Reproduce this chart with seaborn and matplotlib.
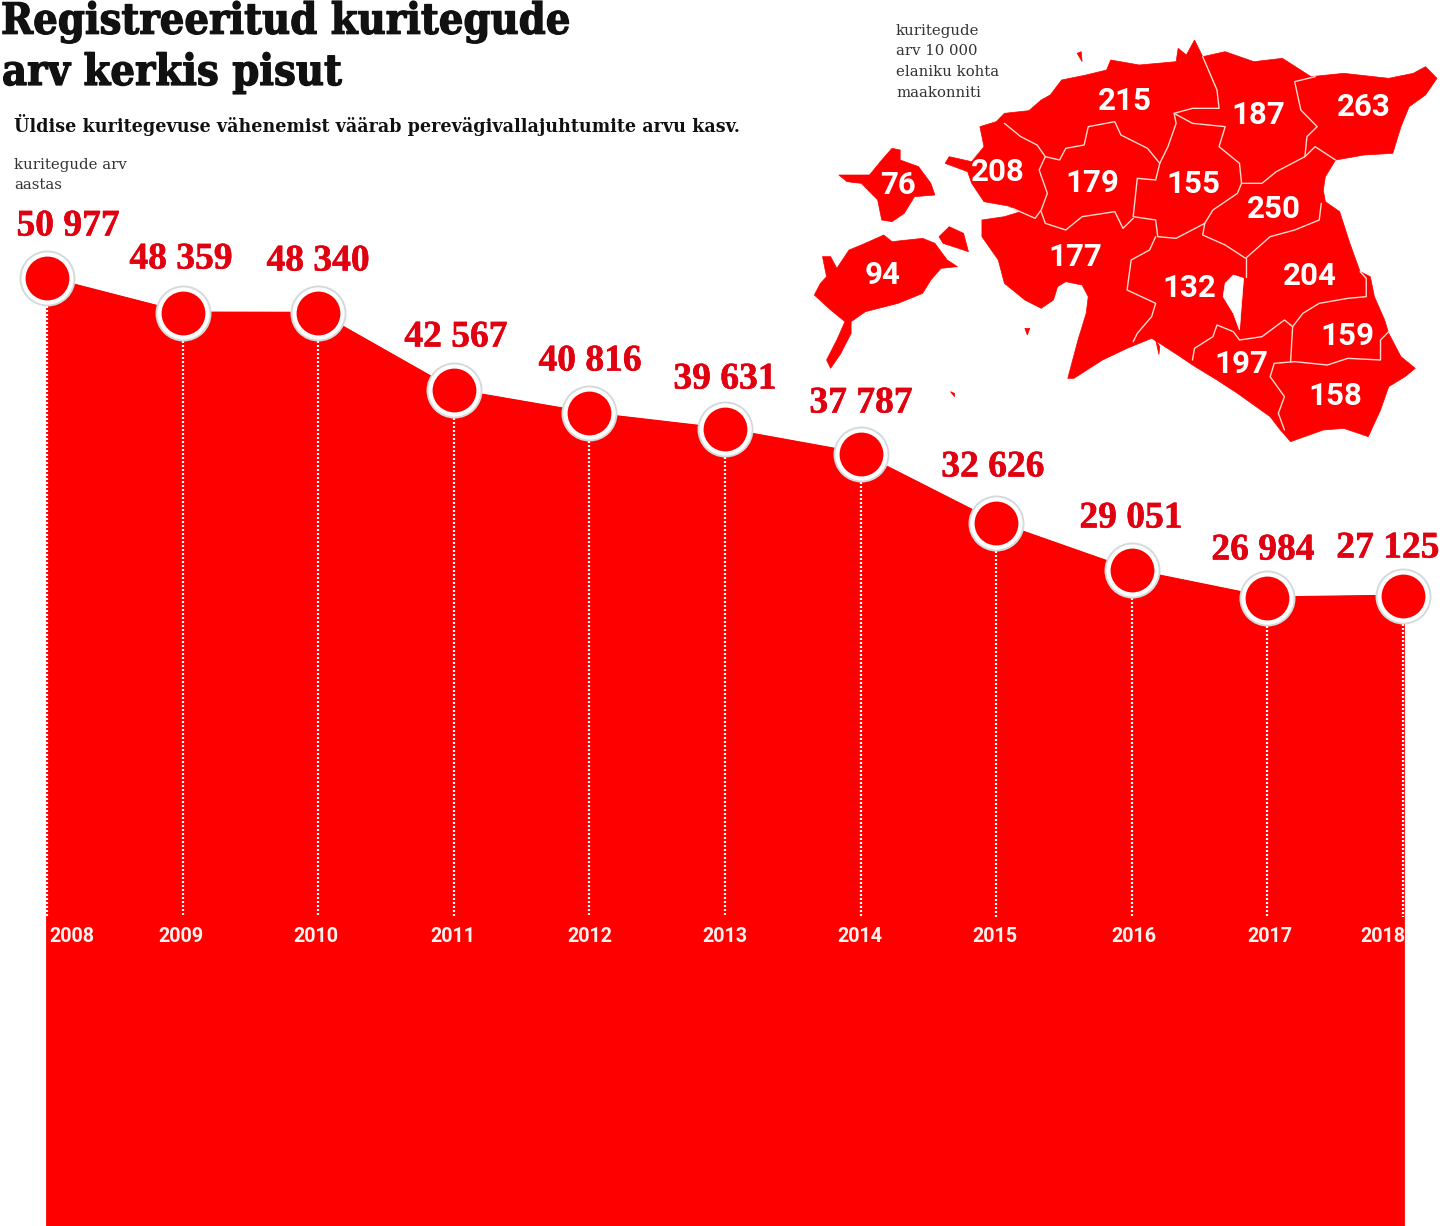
#!/usr/bin/env python3
# Registreeritud kuriteod 2008-2018 + maakondade kaart
import matplotlib
matplotlib.use('Agg')
import matplotlib.pyplot as plt
import matplotlib.patheffects as pe
from matplotlib.patches import Polygon
import pandas as pd
import seaborn as sns

# Data
years = [2008, 2009, 2010, 2011, 2012, 2013, 2014, 2015, 2016, 2017, 2018]
crimes = [50977, 48359, 48340, 42567, 40816, 39631, 37787, 32626, 29051, 26984, 27125]
crime_labels = ['50 977', '48 359', '48 340', '42 567', '40 816', '39 631',
                '37 787', '32 626', '29 051', '26 984', '27 125']
county_values = ['215', '187', '263', '208', '179', '155', '250', '76', '177',
                 '94', '132', '204', '159', '197', '158']

RED = '#fe0000'
SANS = 'Roboto'
SLAB = 'DejaVu Serif'
NUM = 'Liberation Serif'

# Label placement in image pixels
label_xy = [(68, 226), (181, 259), (318, 261), (456, 337), (590, 361), (725, 379),
            (861, 403), (993, 467), (1131, 518), (1263, 550), (1388, 548)]
year_x = [72, 181, 316, 453, 590, 725, 860, 995, 1134, 1270, 1383]
county_xy = [(1125, 101), (1258, 115), (1364, 107), (998, 172), (1092, 183), (1193, 184),
             (1274, 209), (898, 185), (1075, 257), (883, 275), (1189, 288), (1310, 276),
             (1347, 336), (1241, 364), (1335, 396)]

# Map outlines, coordinates of the crop at (800, 20)
mainland = [(500, 280), (560, 272), (590, 240), (612, 225), (640, 180), (700, 165), (750, 150),
            (760, 120), (830, 135), (920, 125), (925, 85), (945, 105), (965, 60), (985, 110),
            (1040, 95), (1110, 125), (1180, 115), (1250, 170), (1330, 160), (1440, 175),
            (1500, 160), (1530, 140), (1558, 175), (1530, 225), (1490, 260), (1470, 320),
            (1450, 400), (1380, 405), (1310, 420), (1285, 470), (1280, 510), (1285, 545),
            (1320, 575), (1345, 670), (1370, 755), (1395, 770), (1405, 830), (1430, 900),
            (1440, 940), (1470, 1010), (1505, 1045), (1480, 1070), (1440, 1100), (1420, 1170),
            (1390, 1250), (1330, 1225), (1280, 1230), (1200, 1265), (1175, 1230), (1150, 1190),
            (1070, 1120), (1020, 1080), (960, 1035), (930, 1010), (880, 970), (860, 955),
            (800, 985), (740, 1020), (670, 1075), (655, 1075), (680, 960), (700, 880),
            (705, 830), (690, 795), (650, 785), (630, 800), (620, 840), (590, 865), (550, 840),
            (500, 790), (485, 720), (445, 650), (445, 600), (500, 590), (540, 575), (510, 558),
            (450, 545), (420, 490), (410, 455), (355, 430), (365, 410), (420, 425), (450, 380),
            (440, 320), (480, 305)]
hiiumaa = [(95, 465), (170, 465), (200, 420), (225, 385), (245, 390), (245, 420), (290, 440),
           (320, 490), (330, 525), (280, 530), (255, 580), (225, 605), (200, 600), (190, 540),
           (150, 490), (115, 485)]
saaremaa = [(55, 710), (75, 710), (90, 745), (120, 690), (150, 675), (205, 645), (225, 665),
            (300, 655), (330, 670), (360, 720), (385, 740), (345, 745), (320, 780), (300, 820),
            (240, 850), (160, 875), (125, 905), (125, 940), (100, 1000), (75, 1045), (65, 1020),
            (90, 960), (110, 905), (75, 870), (35, 825), (50, 790), (65, 770)]
muhu = [(340, 650), (365, 620), (400, 640), (412, 695), (375, 680), (350, 670)]
islets = [[(678, 100), (688, 95), (690, 125)], [(550, 925), (562, 925), (556, 945)],
          [(368, 1115), (378, 1120), (378, 1130)], [(870, 960), (880, 980), (878, 1003)]]
vortsjarv = [(1040, 790), (1060, 765), (1085, 775), (1080, 850), (1075, 930), (1060, 880), (1035, 830)]

borders = [
    [(500, 310), (540, 350), (580, 375), (600, 410), (635, 420), (650, 385), (695, 375), (705, 320),
     (770, 305), (785, 345), (850, 385), (880, 430), (900, 380), (920, 310), (915, 280), (960, 265),
     (1025, 265), (1020, 210), (985, 110)],
    [(915, 280), (960, 310), (1040, 320), (1025, 380), (1075, 430), (1080, 490), (1130, 490),
     (1165, 455), (1235, 410), (1240, 350), (1265, 320), (1225, 270), (1210, 185), (1260, 170)],
    [(1235, 410), (1260, 380), (1310, 420)],
    [(1080, 490), (1070, 520), (1010, 570), (990, 610), (985, 645), (1040, 675), (1090, 715),
     (1150, 650), (1210, 630), (1270, 600), (1275, 550)],
    [(880, 430), (870, 480), (825, 475), (815, 590), (870, 600), (875, 650), (920, 655), (990, 610)],
    [(520, 565), (575, 595), (590, 570), (605, 520), (585, 450), (600, 410)],
    [(590, 575), (600, 610), (650, 630), (690, 590), (770, 575), (790, 625), (815, 595)],
    [(870, 650), (855, 690), (810, 720), (800, 810), (870, 850), (860, 890), (825, 940), (815, 965)],
    [(1090, 715), (1090, 770)],
    [(960, 1020), (965, 985), (1010, 950), (1020, 915), (1060, 935), (1075, 960), (1130, 950),
     (1185, 900), (1205, 920), (1230, 880), (1270, 850), (1340, 835), (1385, 830), (1385, 775),
     (1370, 755)],
    [(1205, 920), (1200, 1025)],
    [(1185, 1230), (1170, 1180), (1185, 1130), (1150, 1070), (1160, 1030), (1210, 1025), (1290, 1035),
     (1340, 1015), (1420, 1020), (1420, 960), (1440, 935)],
]


def to_px(points):
    # the crop came back wider than tall, x and y have their own factor
    return [(800 + x / 2.446, 20 + y / 3) for x, y in points]


sns.set_theme(style='white')
fig = plt.figure(figsize=(14.42, 12.26), dpi=100, facecolor='white')

# Chart axes cover the whole figure, limits keep 2008 at x=47px and 2018 at x=1403px
ax = fig.add_axes([0, 0, 1, 1])
px_per_year = 135.6
px_per_case = 0.01333
ax.set_xlim(2008 - 47 / px_per_year, 2008 + (1442 - 47) / px_per_year)
ax.set_ylim(50977 - (1226 - 278) / px_per_case, 50977 + 278 / px_per_case)
ax.axis('off')

df = pd.DataFrame({'year': years, 'crimes': crimes})
floor = ax.get_ylim()[0]
ax.fill_between(years, crimes, floor, color=RED, linewidth=2, zorder=1)
sns.lineplot(data=df, x='year', y='crimes', color=RED, linewidth=2, ax=ax, zorder=2)

# Dotted lines from every marker
dots_end = 3040
for y, v in zip(years, crimes):
    ax.plot([y, y], [v, dots_end], color='white', linewidth=1.6,
            linestyle=(0, (0.9, 0.9)), zorder=3)

# Markers: grey halo + white ring + red centre
sns.scatterplot(data=df, x='year', y='crimes', s=(56 * 0.72) ** 2, color='#d3dada',
                linewidth=0, ax=ax, zorder=4, legend=False)
sns.scatterplot(data=df, x='year', y='crimes', s=(48 * 0.72) ** 2, color=RED,
                edgecolor='white', linewidth=3, ax=ax, zorder=5, legend=False)

ax.set_xlabel('')
ax.set_ylabel('')

# Overlay in image pixels for texts and the map
ov = fig.add_axes([0, 0, 1, 1], facecolor='none')
ov.set_xlim(0, 1442)
ov.set_ylim(1226, 0)
ov.axis('off')

bold_num = [pe.withStroke(linewidth=0.4, foreground='#e1000f')]
for (x, y), txt in zip(label_xy, crime_labels):
    ov.text(x, y, txt, color='#e1000f', family=NUM, weight='bold', fontsize=27,
            ha='center', va='center', zorder=6, path_effects=bold_num)

for x, y_lab in zip(year_x, years):
    ov.text(x, 936, str(y_lab), color='#fff3ee', family=SANS, weight='bold', fontsize=14.2,
            ha='center', va='center', zorder=6)

# Map
for shape in [mainland, hiiumaa, saaremaa, muhu] + islets:
    ov.add_patch(Polygon(to_px(shape), closed=True, facecolor=RED, edgecolor=RED, linewidth=0.5, zorder=3))
ov.add_patch(Polygon(to_px(vortsjarv), closed=True, facecolor='white', edgecolor='white', linewidth=0.5, zorder=4))
for line in borders:
    pts = to_px(line)
    ov.plot([p[0] for p in pts], [p[1] for p in pts], color='#ffd9d0', linewidth=1.0, zorder=4)

for (x, y), txt in zip(county_xy, county_values):
    ov.text(x, y, txt, color='white', family=SANS, weight='bold', stretch='condensed',
            fontsize=22.5, ha='center', va='center', zorder=6)

# Titles
title_kw = dict(family=SLAB, weight='bold', stretch='condensed', color='#111111', fontsize=31,
                va='center', ha='left', zorder=6,
                path_effects=[pe.withStroke(linewidth=0.9, foreground='#111111')])
ov.text(1, 22, 'Registreeritud kuritegude', **title_kw)
ov.text(2, 73, 'arv kerkis pisut', **title_kw)
ov.text(14, 125, 'Üldise kuritegevuse vähenemist väärab perevägivallajuhtumite arvu kasv.',
        family=SLAB, weight='bold', stretch='condensed', color='#111111', fontsize=14,
        va='center', ha='left', zorder=6)

small_kw = dict(family=SLAB, color='#333333', fontsize=10.7, va='center', ha='left', zorder=6)
for y, txt in zip([165, 185], ['kuritegude arv', 'aastas']):
    ov.text(14, y, txt, **small_kw)
for y, txt in zip([31, 51, 72, 93], ['kuritegude', 'arv 10 000', 'elaniku kohta', 'maakonniti']):
    ov.text(896, y, txt, **small_kw)

fig.savefig('out.png', dpi=100, facecolor='white')
